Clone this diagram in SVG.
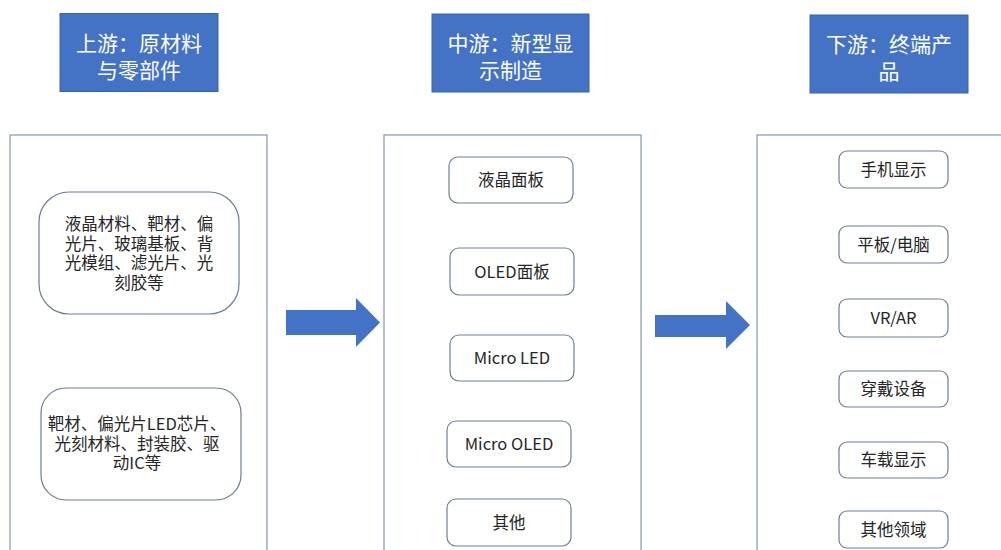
<svg xmlns="http://www.w3.org/2000/svg" width="1001" height="550" viewBox="0 0 1001 550">
<style>
.hdr{fill:#4472C4;stroke:#3A62A8;stroke-width:1}
.ht{fill:#ffffff;font-family:"Noto Sans CJK SC","Microsoft YaHei",sans-serif;font-size:21px;text-anchor:middle}
.col{fill:#ffffff;stroke:#8496B4;stroke-width:1.2}
.box{fill:#ffffff;stroke:#6E7C98;stroke-width:1.2}
.t{fill:#262626;font-family:"Noto Sans CJK SC","Microsoft YaHei",sans-serif;font-size:16.5px;text-anchor:middle}
.arr{fill:#4472C4}
</style>
<rect width="1001" height="550" fill="#ffffff"/>
<g id="header-up">
<rect class="hdr" x="60" y="13.5" width="158" height="78"/>
<text class="ht" x="139" y="50.5">上游：原材料</text>
<text class="ht" x="139" y="77.5">与零部件</text>
</g>
<g id="header-mid">
<rect class="hdr" x="432" y="14" width="157" height="78"/>
<text class="ht" x="510.5" y="50.5">中游：新型显</text>
<text class="ht" x="510.5" y="77.5">示制造</text>
</g>
<g id="header-down">
<rect class="hdr" x="810" y="15" width="158" height="78"/>
<text class="ht" x="889" y="51.5">下游：终端产</text>
<text class="ht" x="889" y="78.5">品</text>
</g>
<g id="col-up">
<rect class="col" x="10" y="135" width="257" height="430"/>
</g>
<g id="col-mid">
<rect class="col" x="384" y="135" width="257" height="430"/>
</g>
<g id="col-down">
<rect class="col" x="757" y="135" width="260" height="430"/>
</g>
<g id="up-1">
<rect class="box" x="39" y="192" width="200" height="122" rx="30"/>
<text class="t" x="139" y="230">液晶材料、靶材、偏</text>
<text class="t" x="139" y="249.5">光片、玻璃基板、背</text>
<text class="t" x="139" y="269">光模组、滤光片、光</text>
<text class="t" x="139" y="288.5">刻胶等</text>
</g>
<g id="up-2">
<rect class="box" x="41" y="388" width="200" height="112" rx="25"/>
<text class="t" x="137" y="430">靶材、偏光片LED芯片、</text>
<text class="t" x="137" y="449.5">光刻材料、封装胶、驱</text>
<text class="t" x="137" y="469">动IC等</text>
</g>
<g id="mid-1">
<rect class="box" x="449" y="157" width="124" height="46" rx="9"/>
<text class="t" x="511" y="186">液晶面板</text>
</g>
<g id="mid-2">
<rect class="box" x="450" y="248" width="124" height="47" rx="9"/>
<text class="t" x="512" y="277.5">OLED面板</text>
</g>
<g id="mid-3">
<rect class="box" x="450" y="335" width="124" height="46" rx="9"/>
<text class="t" x="512" y="364">Micro LED</text>
</g>
<g id="mid-4">
<rect class="box" x="447" y="421" width="124" height="46" rx="9"/>
<text class="t" x="509" y="450">Micro OLED</text>
</g>
<g id="mid-5">
<rect class="box" x="447" y="499" width="124" height="47" rx="9"/>
<text class="t" x="509" y="528.5">其他</text>
</g>
<g id="down-1">
<rect class="box" x="839" y="151" width="109" height="37" rx="8"/>
<text class="t" x="893.5" y="175.5">手机显示</text>
</g>
<g id="down-2">
<rect class="box" x="839" y="226" width="109" height="37" rx="8"/>
<text class="t" x="893.5" y="250.5">平板/电脑</text>
</g>
<g id="down-3">
<rect class="box" x="839" y="299" width="109" height="38" rx="8"/>
<text class="t" x="893.5" y="324">VR/AR</text>
</g>
<g id="down-4">
<rect class="box" x="839" y="371" width="109" height="36" rx="8"/>
<text class="t" x="893.5" y="395">穿戴设备</text>
</g>
<g id="down-5">
<rect class="box" x="839" y="442" width="109" height="36" rx="8"/>
<text class="t" x="893.5" y="466">车载显示</text>
</g>
<g id="down-6">
<rect class="box" x="839" y="511" width="109" height="37" rx="8"/>
<text class="t" x="893.5" y="535.5">其他领域</text>
</g>
<g id="connectors">
<polygon class="arr" points="286,310 356,310 356,298 380,322.5 356,347 356,335 286,335"/>
<polygon class="arr" points="655,315 726,315 726,301 750,325 726,349 726,337 655,337"/>
</g>
</svg>
